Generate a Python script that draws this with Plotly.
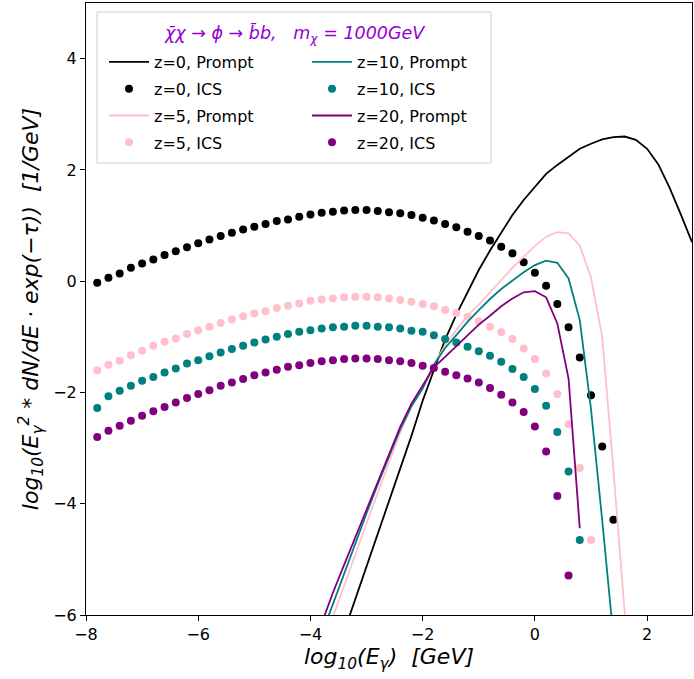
import plotly.graph_objects as go

# ---------------- data ----------------
ics_x = [-7.8, -7.6, -7.4, -7.2, -7.0, -6.8, -6.6, -6.4, -6.2, -6.0,
         -5.8, -5.6, -5.4, -5.2, -5.0, -4.8, -4.6, -4.4, -4.2, -4.0,
         -3.8, -3.6, -3.4, -3.2, -3.0, -2.8, -2.6, -2.4, -2.2, -2.0,
         -1.8, -1.6, -1.4, -1.2, -1.0, -0.8, -0.6, -0.4, -0.2, 0.0,
         0.2, 0.4, 0.6, 0.8, 1.0, 1.2, 1.4]

ics_z0 = [-0.03, 0.06, 0.14, 0.24, 0.32, 0.39, 0.47, 0.54, 0.61, 0.68,
          0.75, 0.81, 0.87, 0.93, 0.98, 1.03, 1.08, 1.11, 1.16, 1.20,
          1.23, 1.25, 1.27, 1.28, 1.28, 1.26, 1.24, 1.22, 1.19, 1.14,
          1.09, 1.03, 0.97, 0.89, 0.81, 0.73, 0.62, 0.50, 0.34, 0.15,
          -0.08, -0.41, -0.83, -1.37, -2.05, -2.97, -4.29]

ics_z5 = [-1.60, -1.50, -1.43, -1.33, -1.25, -1.16, -1.09, -1.03, -0.95, -0.88,
          -0.82, -0.75, -0.69, -0.63, -0.58, -0.54, -0.48, -0.44, -0.40, -0.35,
          -0.33, -0.31, -0.29, -0.28, -0.28, -0.29, -0.31, -0.34, -0.37, -0.41,
          -0.45, -0.52, -0.57, -0.64, -0.72, -0.82, -0.92, -1.04, -1.21, -1.40,
          -1.66, -2.03, -2.57, -3.36, -4.65]

ics_z10 = [-2.28, -2.07, -1.97, -1.88, -1.79, -1.72, -1.64, -1.57, -1.48, -1.42,
           -1.35, -1.28, -1.22, -1.16, -1.10, -1.05, -1.00, -0.95, -0.91, -0.88,
           -0.85, -0.83, -0.82, -0.80, -0.80, -0.82, -0.83, -0.85, -0.89, -0.91,
           -0.97, -1.04, -1.10, -1.18, -1.26, -1.34, -1.45, -1.58, -1.72, -1.94,
           -2.24, -2.71, -3.42, -4.65]

ics_z20 = [-2.80, -2.69, -2.60, -2.51, -2.42, -2.34, -2.26, -2.18, -2.10, -2.03,
           -1.96, -1.88, -1.82, -1.76, -1.69, -1.64, -1.59, -1.54, -1.51, -1.47,
           -1.44, -1.42, -1.40, -1.39, -1.39, -1.40, -1.42, -1.44, -1.47, -1.52,
           -1.56, -1.63, -1.69, -1.75, -1.82, -1.92, -2.04, -2.18, -2.35, -2.61,
           -3.06, -3.86, -5.29]

prompt_x = [-3.8, -3.6, -3.4, -3.2, -3.0, -2.8, -2.6, -2.4, -2.2, -2.0,
            -1.8, -1.6, -1.4, -1.2, -1.0, -0.8, -0.6, -0.4, -0.2, 0.0,
            0.2, 0.4, 0.6, 0.8, 1.0, 1.2, 1.4, 1.6, 1.8, 2.0,
            2.2, 2.4, 2.6, 2.8]

# z=0 prompt starts at x=-3.4 (index 2 of prompt_x)
prompt_z0 = [-6.3, -5.72, -5.13, -4.55, -3.98, -3.4, -2.78, -2.15,
             -1.6, -1.05, -0.6, -0.19, 0.2, 0.55, 0.88, 1.19, 1.46, 1.70,
             1.93, 2.09, 2.24, 2.38, 2.47, 2.55, 2.59, 2.60, 2.54, 2.38,
             2.10, 1.68, 1.20, 0.70]

prompt_z5 = [-6.6, -6.03, -5.45, -4.9, -4.35, -3.8, -3.25, -2.72, -2.25, -1.9,
             -1.5, -1.15, -0.88, -0.62, -0.42, -0.2, 0.02, 0.24, 0.44, 0.63,
             0.80, 0.88, 0.86, 0.64, 0.06, -1.0, -3.4, -5.9, -8.5]

prompt_z10 = [-6.35, -5.8, -5.25, -4.7, -4.17, -3.65, -3.15, -2.66, -2.25, -1.93,
              -1.5, -1.2, -0.97, -0.73, -0.52, -0.32, -0.14, 0.01, 0.16, 0.29,
              0.37, 0.33, 0.05, -0.7, -2.3, -4.3, -6.4]

prompt_z20 = [-6.15, -5.6, -5.1, -4.6, -4.11, -3.6, -3.1, -2.62, -2.2, -1.88,
              -1.55, -1.36, -1.17, -0.98, -0.78, -0.62, -0.45, -0.31, -0.2, -0.18,
              -0.29, -0.76, -1.75, -4.44]

x_ticks = [-8, -6, -4, -2, 0, 2]
y_ticks = [-6, -4, -2, 0, 2, 4]

# ---------------- styling ----------------
FONT = "DejaVu Sans"
C0, C5, C10, C20 = "black", "#FFC0CB", "#008080", "#800080"
LW = 1.8
MS = 8

fig = go.Figure()

def add_line(x, y, color, name, legend, grp):
    fig.add_trace(go.Scatter(x=x, y=y, mode="lines", line=dict(color=color, width=LW),
                             name=name, legend=legend, legendgroup=grp))

def add_dots(x, y, color, name, legend, grp):
    fig.add_trace(go.Scatter(x=x, y=y, mode="markers",
                             marker=dict(color=color, size=MS, line=dict(width=0)),
                             name=name, legend=legend, legendgroup=grp))

add_line(prompt_x[2:2 + len(prompt_z0)], prompt_z0, C0, "z=0, Prompt", "legend", "a")
add_dots(ics_x[:len(ics_z0)], ics_z0, C0, "z=0, ICS", "legend", "b")
add_line(prompt_x[:len(prompt_z5)], prompt_z5, C5, "z=5, Prompt", "legend", "c")
add_dots(ics_x[:len(ics_z5)], ics_z5, C5, "z=5, ICS", "legend", "d")
add_line(prompt_x[:len(prompt_z10)], prompt_z10, C10, "z=10, Prompt", "legend2", "e")
add_dots(ics_x[:len(ics_z10)], ics_z10, C10, "z=10, ICS", "legend2", "f")
add_line(prompt_x[:len(prompt_z20)], prompt_z20, C20, "z=20, Prompt", "legend2", "g")
add_dots(ics_x[:len(ics_z20)], ics_z20, C20, "z=20, ICS", "legend2", "h")

L, R, T, B = 86, 2, 3, 64
W, H = 694, 679
pw, ph = W - L - R, H - T - B

def px2paper_x(px):
    return (px - L) / pw

def px2paper_y(py):
    return (H - B - py) / ph

legend_common = dict(bgcolor="rgba(0,0,0,0)", borderwidth=0,
                     font=dict(family=FONT, size=16, color="black"),
                     tracegroupgap=3, itemwidth=40, xanchor="left", yanchor="top",
                     traceorder="grouped")

def fmt(v):
    return "\u2212" + str(-v) if v < 0 else str(v)

fig.update_layout(
    width=W, height=H,
    margin=dict(l=L, r=R, t=T, b=B),
    paper_bgcolor="white", plot_bgcolor="white",
    font=dict(family=FONT, size=16, color="black"),
    legend=dict(x=px2paper_x(104), y=px2paper_y(45), **legend_common),
    legend2=dict(x=px2paper_x(307), y=px2paper_y(45), **legend_common),
    xaxis=dict(range=[-8, 2.8], tickvals=x_ticks, ticktext=[fmt(v) for v in x_ticks],
               showgrid=False, zeroline=False, showline=True, linecolor="black", linewidth=1,
               mirror=True, ticks="outside", ticklen=5, tickwidth=1, tickcolor="black",
               tickfont=dict(family=FONT, size=16),
               title=dict(text="<i>log<sub>10</sub>(E<sub>γ</sub>)  [GeV]</i>",
                          font=dict(family=FONT, size=22), standoff=4)),
    yaxis=dict(range=[-6, 5], tickvals=y_ticks, ticktext=[fmt(v) for v in y_ticks],
               showgrid=False, zeroline=False, showline=True, linecolor="black", linewidth=1,
               mirror=True, ticks="outside", ticklen=5, tickwidth=1, tickcolor="black",
               tickfont=dict(family=FONT, size=16),
               title=dict(text="<i>log<sub>10</sub>(E<sub>γ</sub><sup>2</sup> * dN/dE · exp(−τ))  [1/GeV]</i>",
                          font=dict(family=FONT, size=22), standoff=8)),
    shapes=[dict(type="rect", xref="paper", yref="paper",
                 x0=px2paper_x(97), x1=px2paper_x(491), y0=px2paper_y(163), y1=px2paper_y(12),
                 line=dict(color="#d0d0d0", width=1), fillcolor="rgba(255,255,255,0.8)", layer="above")],
    annotations=[dict(text="<i>χ̄χ → ϕ → b̄b,   m<sub>χ</sub> = 1000GeV</i>",
                      xref="paper", yref="paper", x=px2paper_x(294), y=px2paper_y(34),
                      xanchor="center", yanchor="middle", showarrow=False,
                      font=dict(family=FONT, size=17.5, color="#9400D3"))],
)

fig.write_html("out.html")
